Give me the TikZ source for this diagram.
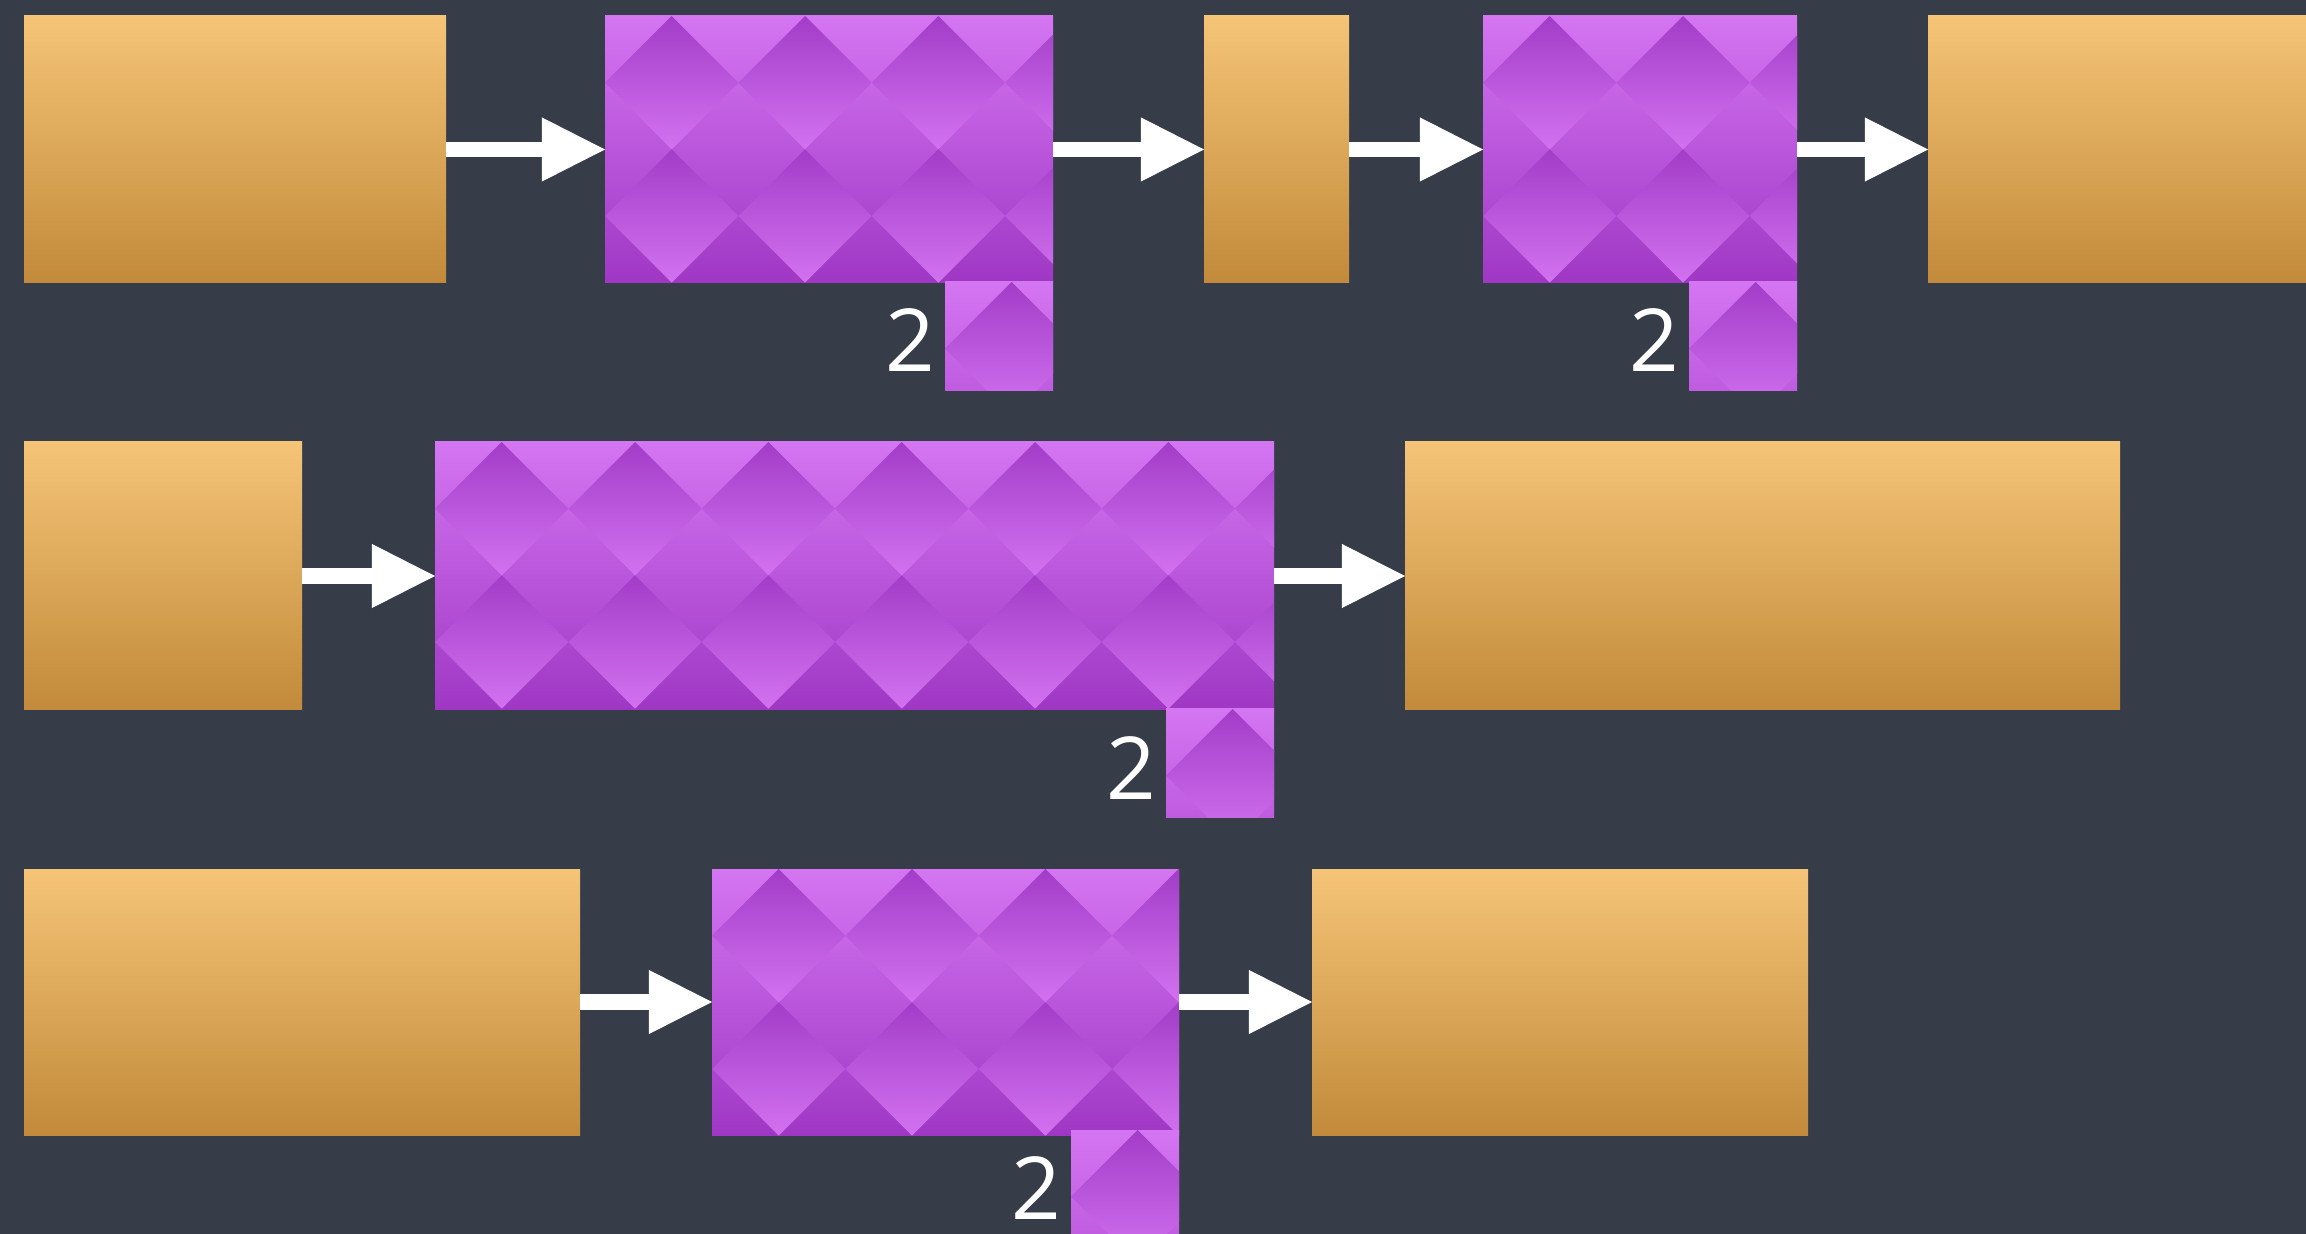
\documentclass[tikz,border=0pt]{standalone}
\usepackage{fontspec}
\setmainfont{Open Sans}
\usetikzlibrary{arrows.meta}
\definecolor{slatebg}{HTML}{363D48}
\definecolor{ambertop}{HTML}{F5C477}
\definecolor{amberbot}{HTML}{C28A3A}
\definecolor{violettop}{HTML}{D475F2}
\definecolor{violetbot}{HTML}{9F37C4}
\definecolor{violetmid}{HTML}{BF5CE0}
\definecolor{gemtop}{HTML}{A33CC8}
\definecolor{gembot}{HTML}{D272F0}

% diamond tiles laid from a box's top left corner, clipped to the box
\newcommand{\gems}[1]{%
  \begin{scope}
    \clip (#1.north west) rectangle (#1.south east);
    \begin{scope}[shift={(#1.north west)}]
      \foreach \i in {0,...,6}
        \foreach \j in {0,1}
          \shade[top color=gemtop, bottom color=gembot]
            ({\i*133.33+66.67},{\j*133.33}) -- ++(66.67,66.67) -- ++(-66.67,66.67) -- ++(-66.67,-66.67) -- cycle;
    \end{scope}
  \end{scope}}

\begin{document}
\begin{tikzpicture}[x=0.01cm, y=-0.01cm,
    obox/.style 2 args={anchor=north west, inner sep=0, outer sep=0, minimum width=#1*0.01cm, minimum height=#2*0.01cm, top color=ambertop, bottom color=amberbot},
    vbox/.style 2 args={anchor=north west, inner sep=0, outer sep=0, minimum width=#1*0.01cm, minimum height=#2*0.01cm, top color=violettop, bottom color=violetbot},
    vtile/.style={anchor=north west, inner sep=0, outer sep=0, minimum width=1.08cm, minimum height=1.08cm, top color=violettop, bottom color=violetmid},
    num/.style={white, font=\fontsize{24.7}{26}\selectfont, inner sep=0, outer sep=0, anchor=south east},
    flow/.style={white, line width=0.15cm, -{Triangle[length=0.63cm, width=0.64cm, line width=0pt]}}]
    % Background
    \useasboundingbox (0,0) rectangle (2306,1234);
    \fill[slatebg] (0,0) rectangle (2306,1234);

    % Row 1
    \node[obox={422}{267}] (in1) at (24,16) {};
    \node[vbox={448}{267}] (pool1) at (605,16) {};
    \gems{pool1}
    \node[vtile] (k1) at (945,282) {};
    \gems{k1}
    \node[num] (n1) at ([shift={(-10,90)}]k1.north west) {2};
    \node[obox={145}{267}] (mid1) at (1204,16) {};
    \node[vbox={314}{267}] (pool2) at (1483,16) {};
    \gems{pool2}
    \node[vtile] (k2) at (1689,282) {};
    \gems{k2}
    \node[num] (n2) at ([shift={(-10,90)}]k2.north west) {2};
    \node[obox={400}{267}] (out1) at (1928,16) {};
    \draw[flow] (in1.east) -- (pool1.west);
    \draw[flow] (pool1.east) -- (mid1.west);
    \draw[flow] (mid1.east) -- (pool2.west);
    \draw[flow] (pool2.east) -- (out1.west);

    % Row 2
    \node[obox={278}{268}] (in2) at (24,442) {};
    \node[vbox={839}{268}] (pool3) at (435,442) {};
    \gems{pool3}
    \node[vtile] (k3) at (1166,709) {};
    \gems{k3}
    \node[num] (n3) at ([shift={(-10,90)}]k3.north west) {2};
    \node[obox={715}{268}] (out2) at (1405,442) {};
    \draw[flow] (in2.east) -- (pool3.west);
    \draw[flow] (pool3.east) -- (out2.west);

    % Row 3
    \node[obox={556}{266}] (in3) at (24,869) {};
    \node[vbox={467}{266}] (pool4) at (712,869) {};
    \gems{pool4}
    \node[vtile] (k4) at (1071,1130) {};
    \gems{k4}
    \node[num] (n4) at ([shift={(-10,89)}]k4.north west) {2};
    \node[obox={496}{266}] (out3) at (1312,869) {};
    \draw[flow] (in3.east) -- (pool4.west);
    \draw[flow] (pool4.east) -- (out3.west);
\end{tikzpicture}
\end{document}
